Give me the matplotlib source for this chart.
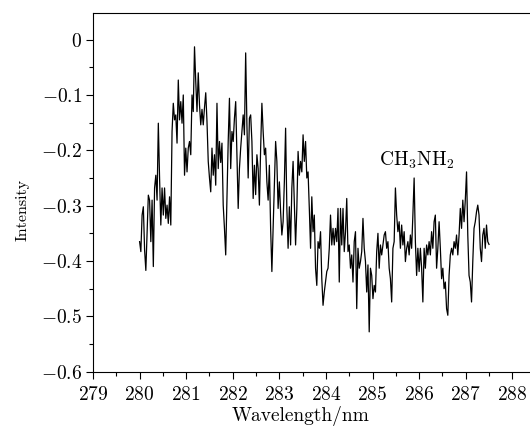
import numpy as np
import matplotlib
matplotlib.use("Agg")
import matplotlib.pyplot as plt
from matplotlib.ticker import MultipleLocator, FuncFormatter

# spectrum (CH3NH2), 280 - 287.5 nm
seg1 = [-0.365, -0.383, -0.317, -0.302, -0.380, -0.417, -0.347, -0.281, -0.290, -0.365,
        -0.290, -0.410, -0.268, -0.245, -0.290, -0.151, -0.250, -0.335, -0.268, -0.317,
        -0.268, -0.323, -0.299, -0.332, -0.284, -0.335, -0.166, -0.115, -0.145, -0.136,
        -0.187, -0.073, -0.145, -0.112, -0.151, -0.100, -0.245, -0.196, -0.239, -0.196,
        -0.184, -0.208, -0.100, -0.130, -0.013]
seg2 = [-0.076, -0.130, -0.060, -0.118, -0.154, -0.126, -0.154, -0.123, -0.096, -0.148,
        -0.220, -0.250, -0.275, -0.196, -0.245, -0.208, -0.263, -0.115, -0.233, -0.184,
        -0.222, -0.187, -0.299, -0.341, -0.389, -0.290, -0.184, -0.106, -0.233, -0.166,
        -0.184, -0.142, -0.112, -0.208, -0.305, -0.233, -0.196, -0.166, -0.136, -0.172,
        -0.024, -0.154, -0.250, -0.142, -0.136, -0.184, -0.287]
seg3 = [-0.227, -0.280, -0.208, -0.233, -0.299, -0.196, -0.115, -0.166, -0.208, -0.196,
        -0.257, -0.290, -0.227, -0.341, -0.419, -0.341, -0.268, -0.184, -0.220, -0.305,
        -0.257, -0.311, -0.353, -0.329, -0.257, -0.160, -0.305, -0.377, -0.302, -0.371,
        -0.268, -0.220, -0.299, -0.371, -0.305, -0.202, -0.245, -0.220, -0.239, -0.172,
        -0.220, -0.184, -0.250, -0.239, -0.305, -0.377, -0.284, -0.347]
seg4 = [-0.317, -0.413, -0.444, -0.365, -0.377, -0.347, -0.432, -0.480, -0.456, -0.438,
        -0.419, -0.413, -0.377, -0.317, -0.371, -0.341, -0.371, -0.341, -0.365, -0.305,
        -0.438, -0.305, -0.371, -0.305, -0.383, -0.347, -0.287, -0.383, -0.371, -0.413,
        -0.389, -0.438, -0.365, -0.347, -0.486, -0.377, -0.413, -0.401, -0.383, -0.323,
        -0.377, -0.401, -0.456, -0.407, -0.528, -0.413]
seg5 = [-0.426, -0.468, -0.444, -0.456, -0.383, -0.350, -0.413, -0.371, -0.389, -0.371,
        -0.353, -0.347, -0.377, -0.365, -0.413, -0.432, -0.474, -0.377, -0.365, -0.268,
        -0.317, -0.347, -0.329, -0.377, -0.335, -0.371, -0.347, -0.401, -0.377, -0.365,
        -0.389, -0.353, -0.377, -0.317, -0.250, -0.365, -0.426, -0.377, -0.419, -0.377,
        -0.413, -0.474, -0.377, -0.413, -0.371]
seg6 = [-0.389, -0.365, -0.389, -0.347, -0.377, -0.329, -0.317, -0.413, -0.377, -0.329,
        -0.377, -0.432, -0.413, -0.450, -0.438, -0.486, -0.498, -0.426, -0.389, -0.377,
        -0.389, -0.365, -0.377, -0.353, -0.389, -0.353, -0.305, -0.341, -0.290, -0.329,
        -0.290, -0.239, -0.353, -0.426, -0.438, -0.474, -0.401, -0.341, -0.329, -0.311,
        -0.299, -0.317, -0.377, -0.401, -0.353, -0.341, -0.377, -0.335, -0.365, -0.370]

intensity = np.array(seg1 + seg2 + seg3 + seg4 + seg5 + seg6)
wavelength = np.linspace(280.0, 287.5, len(intensity))

plt.rcParams["font.family"] = "serif"
plt.rcParams["font.serif"] = ["cmr10"]
plt.rcParams["mathtext.fontset"] = "cm"
plt.rcParams["axes.formatter.use_mathtext"] = True

fig = plt.figure(figsize=(5.3, 4.28), dpi=100)
ax = fig.add_axes([0.1755, 0.1315, 0.8245, 0.838])

ax.plot(wavelength, intensity, color="black", lw=0.9)

ax.set_xlim(279, 288.38)
ax.set_ylim(-0.6, 0.048)
ax.xaxis.set_major_locator(MultipleLocator(1))
ax.xaxis.set_minor_locator(MultipleLocator(0.5))
ax.yaxis.set_major_locator(MultipleLocator(0.1))
ax.yaxis.set_minor_locator(MultipleLocator(0.05))
fmt = FuncFormatter(lambda v, _: "$%g$" % round(v, 2))
ax.xaxis.set_major_formatter(fmt)
ax.yaxis.set_major_formatter(fmt)

ax.tick_params(which="both", direction="out", top=False, right=False,
               labelsize=14, width=0.8)
ax.tick_params(which="major", length=5, pad=3)
ax.tick_params(axis="x", which="major", pad=5)
ax.tick_params(which="minor", length=3)
ax.spines["right"].set_visible(False)
for s in ["left", "bottom", "top"]:
    ax.spines[s].set_linewidth(0.8)

ax.set_xlabel("Wavelength/nm", fontsize=14)
ax.set_ylabel("Intensity", fontsize=11.5)
ax.xaxis.set_label_coords(0.474, -0.095)
ax.yaxis.set_label_coords(-0.145, 0.45)

ax.text(285.95, -0.2175, r"$\mathrm{CH_3NH_2}$", fontsize=14,
        ha="center", va="center")

fig.savefig("out.png", dpi=100)
